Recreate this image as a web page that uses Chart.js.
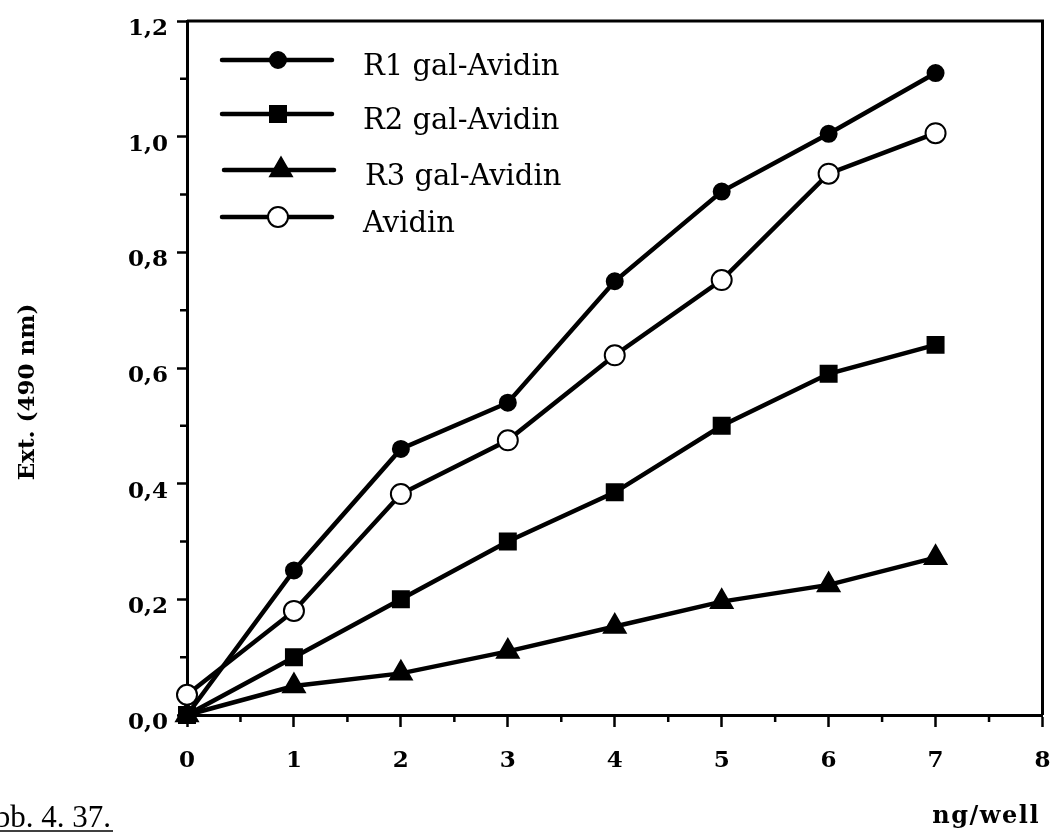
<!DOCTYPE html>
<html>
<head>
<meta charset="utf-8">
<script src="https://cdn.jsdelivr.net/npm/chart.js@4/dist/chart.umd.min.js"></script>
<style>
  html, body { margin: 0; padding: 0; background: #fff; }
  #wrap { width: 1057px; height: 833px; }
</style>
</head>
<body>
<div id="wrap"><canvas id="c" width="1057" height="833"></canvas></div>
<script>
// Amount of conjugate per well (ng/well)
const doses = [0, 1, 2, 3, 4, 5, 6, 7];

// Extinction at 490 nm for each conjugate
const r1GalAvidin = [0, 0.25, 0.46, 0.54, 0.75, 0.905, 1.005, 1.11];
const r2GalAvidin = [0, 0.10, 0.20, 0.30, 0.385, 0.50, 0.59, 0.64];
const r3GalAvidin = [0, 0.05, 0.072, 0.11, 0.153, 0.196, 0.225, 0.272];
const avidinOnly  = [0.035, 0.18, 0.382, 0.475, 0.622, 0.752, 0.936, 1.006];

const seriesNames = ['R1 gal-Avidin', 'R2 gal-Avidin', 'R3 gal-Avidin', 'Avidin'];

// Axis ranges and steps
const xMin = 0, xMax = 8, xStep = 1, xMinorStep = 0.5;
const yMin = 0, yMax = 1.2, yStep = 0.2, yMinorStep = 0.1;

const xTitle = 'ng/well';
const yTitle = 'Ext. (490 nm)';
const caption = 'Abb. 4. 37.';

const RIGHT_GAP = 11;

Chart.defaults.font.family = "'DejaVu Serif', serif";
Chart.defaults.color = '#000';

const toPoints = arr => arr.map((v, i) => ({ x: doses[i], y: v }));

const base = {
  borderColor: '#000',
  borderWidth: 4.5,
  pointBorderColor: '#000',
  pointBorderWidth: 2,
  tension: 0,
  clip: false,
  fill: false
};

const datasets = [
  Object.assign({}, base, { label: seriesNames[0], data: toPoints(r1GalAvidin),
    pointStyle: 'circle', pointRadius: 8, pointBackgroundColor: '#000' }),
  Object.assign({}, base, { label: seriesNames[1], data: toPoints(r2GalAvidin),
    pointStyle: 'rect', pointRadius: 11.3, pointBackgroundColor: '#000' }),
  Object.assign({}, base, { label: seriesNames[2], data: toPoints(r3GalAvidin),
    pointStyle: 'triangle', pointRadius: 12.5, pointBackgroundColor: '#000' }),
  Object.assign({}, base, { label: seriesNames[3], data: toPoints(avidinOnly),
    pointStyle: 'circle', pointRadius: 10, pointBackgroundColor: '#fff', order: -1 })
];

// Frame, minor ticks, legend and free text
const decorations = {
  id: 'decorations',
  afterDraw(chart) {
    const ctx = chart.ctx;
    const a = chart.chartArea;
    const xs = chart.scales.x, ys = chart.scales.y;
    ctx.save();
    ctx.strokeStyle = '#000';
    ctx.fillStyle = '#000';

    // top and right frame
    ctx.lineWidth = 3;
    ctx.beginPath();
    ctx.moveTo(a.left, a.top);
    ctx.lineTo(a.right, a.top);
    ctx.lineTo(a.right, a.bottom);
    ctx.stroke();

    // minor ticks
    ctx.lineWidth = 2.5;
    ctx.beginPath();
    for (let v = xMin + xMinorStep; v < xMax; v += xStep) {
      const px = xs.getPixelForValue(v);
      ctx.moveTo(px, a.bottom);
      ctx.lineTo(px, a.bottom + 7);
    }
    for (let v = yMin + yMinorStep; v < yMax; v += yStep) {
      const py = ys.getPixelForValue(v);
      ctx.moveTo(a.left, py);
      ctx.lineTo(a.left - 7, py);
    }
    ctx.stroke();

    // legend
    const rows = [
      { y: 60, x1: 222, x2: 332, xm: 278, tx: 363 },
      { y: 114, x1: 222, x2: 332, xm: 278, tx: 363 },
      { y: 170, x1: 224, x2: 334, xm: 281, tx: 365 },
      { y: 217, x1: 222, x2: 332, xm: 278, tx: 363 }
    ];
    ctx.font = "29px 'DejaVu Serif'";
    ctx.textBaseline = 'alphabetic';
    ctx.textAlign = 'left';
    chart.data.datasets.forEach((ds, i) => {
      const r = rows[i];
      ctx.lineWidth = 4.5;
      ctx.lineCap = 'round';
      ctx.beginPath();
      ctx.moveTo(r.x1, r.y);
      ctx.lineTo(r.x2, r.y);
      ctx.stroke();
      ctx.lineCap = 'butt';
      ctx.fillStyle = ds.pointBackgroundColor;
      ctx.strokeStyle = '#000';
      ctx.lineWidth = ds.pointBorderWidth;
      Chart.helpers.drawPoint(ctx, {
        pointStyle: ds.pointStyle,
        radius: ds.pointRadius,
        rotation: 0,
        borderWidth: ds.pointBorderWidth
      }, r.xm, r.y);
      ctx.fillStyle = '#000';
      ctx.fillText(ds.label, r.tx, r.y + 15);
    });

    // y axis title
    ctx.save();
    ctx.translate(28, 392);
    ctx.rotate(-Math.PI / 2);
    ctx.font = "bold 23px 'DejaVu Serif'";
    ctx.textAlign = 'center';
    ctx.textBaseline = 'middle';
    ctx.fillText(yTitle, 0, 0);
    ctx.restore();

    // x axis title
    ctx.font = "bold 24px 'DejaVu Serif'";
    ctx.textAlign = 'right';
    ctx.textBaseline = 'alphabetic';
    if ('letterSpacing' in ctx) ctx.letterSpacing = '1.5px';
    ctx.fillText(xTitle, 1040, 823);
    if ('letterSpacing' in ctx) ctx.letterSpacing = '0px';

    // figure caption, underlined
    ctx.font = "31px 'Liberation Serif'";
    ctx.textAlign = 'right';
    ctx.fillText(caption, 111, 827);
    const w = ctx.measureText(caption).width;
    ctx.lineWidth = 1.5;
    ctx.beginPath();
    ctx.moveTo(111 - w, 831);
    ctx.lineTo(113, 831);
    ctx.stroke();

    ctx.restore();
  }
};

new Chart(document.getElementById('c'), {
  type: 'line',
  data: { datasets },
  plugins: [decorations],
  options: {
    responsive: false,
    animation: false,
    layout: { padding: { top: 21, right: RIGHT_GAP, left: 0, bottom: 0 } },
    plugins: { legend: { display: false }, tooltip: { enabled: false } },
    scales: {
      x: {
        type: 'linear',
        min: xMin, max: xMax,
        ticks: {
          stepSize: xStep,
          font: { size: 23, weight: 'bold' },
          padding: 20,
          maxRotation: 0,
          callback: v => String(v)
        },
        grid: { drawOnChartArea: false, drawTicks: true, tickLength: 12, tickWidth: 2.5, tickColor: '#000' },
        border: { display: true, color: '#000', width: 3 },
        afterFit: s => {
          s.height = 118;
          s.paddingLeft = 0;
          s.paddingRight = 0;
          if (s._margins) {
            s._margins.right = RIGHT_GAP;
            s.width = s.chart.width - s._margins.left - s._margins.right;
          }
        }
      },
      y: {
        type: 'linear',
        min: yMin, max: yMax,
        ticks: {
          stepSize: yStep,
          font: { size: 23, weight: 'bold' },
          padding: 9,
          labelOffset: 8,
          callback: v => v.toFixed(1).replace('.', ',')
        },
        grid: { drawOnChartArea: false, drawTicks: true, tickLength: 10, tickWidth: 2.5, tickColor: '#000' },
        border: { display: true, color: '#000', width: 3 },
        afterFit: s => { s.width = 187; s.paddingTop = 0; s.paddingBottom = 0; }
      }
    }
  }
});
</script>
</body>
</html>
